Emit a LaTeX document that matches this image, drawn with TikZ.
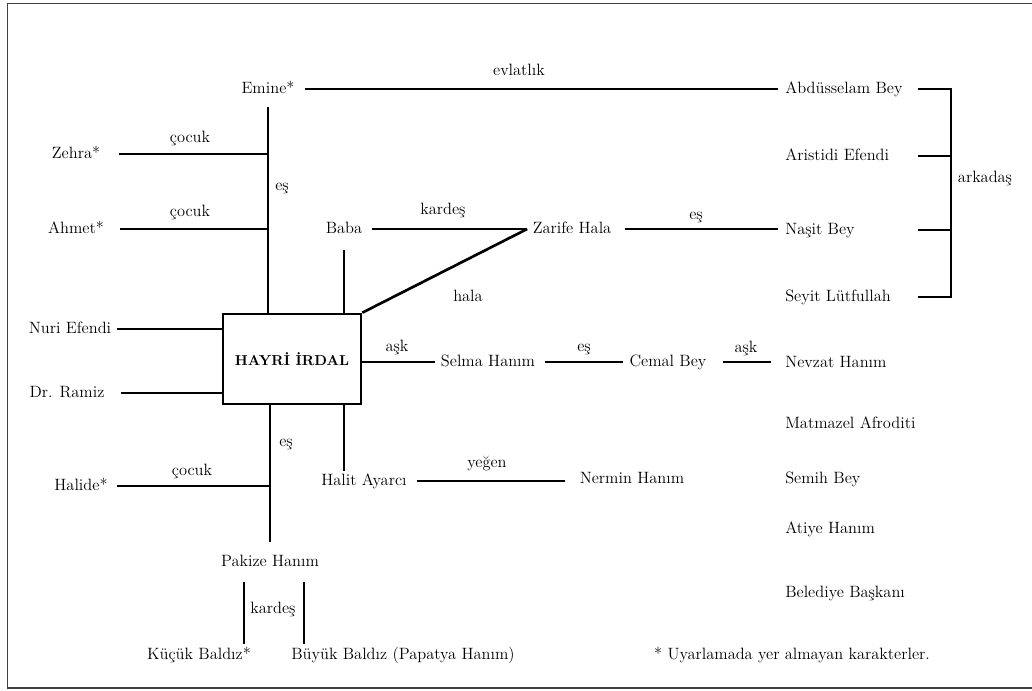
\documentclass[tikz,border=0pt]{standalone}
\begin{document}
\begin{tikzpicture}[x=0.75pt,y=-0.75pt,
  pers/.style={font=\fontsize{12.3}{14}\selectfont, inner sep=0pt, text height=8.5pt, text depth=2.5pt},
  lbl/.style={pers},
  rel/.style={line width=2pt},
  frame/.style={draw=black!75, line width=0.9pt}]
\useasboundingbox (0,0) rectangle (1032,690);
\draw[frame] (1034,3.5) -- (7.5,3.5) -- (7.5,688) -- (1034,688);

% people
\node[pers] (emine) at (268,89) {Emine*};
\node[pers,anchor=west] (abdus) at (785,89) {Abdüsselam Bey};
\node[pers,anchor=west] (arist) at (785,156) {Aristidi Efendi};
\node[pers,anchor=west] (nasit) at (785,230) {Naşit Bey};
\node[pers,anchor=west] (seyit) at (785,297) {Seyit Lütfullah};
\node[pers] (zarife) at (572,229) {Zarife Hala};
\node[pers] (baba) at (344,229) {Baba};
\node[pers] (zehra) at (76,154) {Zehra*};
\node[pers] (ahmet) at (76,229) {Ahmet*};
\node[draw, line width=2pt, minimum width=103.5pt, minimum height=67.5pt, inner sep=0pt,
      font=\bfseries\fontsize{10.8}{13}\selectfont] (hayri) at (292,359) {HAYRİ İRDAL};
\node[pers] (nuri) at (70,329) {Nuri Efendi};
\node[pers] (ramiz) at (67,393) {Dr. Ramiz};
\node[pers] (selma) at (488,362) {Selma Hanım};
\node[pers] (cemal) at (668,362) {Cemal Bey};
\node[pers,anchor=west] (nevzat) at (785,363) {Nevzat Hanım};
\node[pers,anchor=west] (matmazel) at (785,424) {Matmazel Afroditi};
\node[pers,anchor=west] (semih) at (785,479) {Semih Bey};
\node[pers,anchor=west] (atiye) at (785,529) {Atiye Hanım};
\node[pers,anchor=west] (belediye) at (785,593) {Belediye Başkanı};
\node[pers] (halit) at (364,481) {Halit Ayarcı};
\node[pers] (nermin) at (632,479) {Nermin Hanım};
\node[pers] (halide) at (81,486) {Halide*};
\node[pers] (pakize) at (270,562) {Pakize Hanım};
\node[pers] (kucuk) at (199,655) {Küçük Baldız*};
\node[pers] (buyuk) at (403,655) {Büyük Baldız (Papatya Hanım)};
\node[pers] (foot) at (792,655) {* Uyarlamada yer almayan karakterler.};

% labels
\node[lbl] (levl) at (519,71) {evlatlık};
\node[lbl] (lark) at (985,178) {arkadaş};
\node[lbl] (lkar) at (443,210) {kardeş};
\node[lbl] (lhala) at (468,297) {hala};
\node[lbl] (les1) at (696,215) {eş};
\node[lbl] (lcoc1) at (190,138) {çocuk};
\node[lbl] (lcoc2) at (190,212) {çocuk};
\node[lbl,anchor=west] (lesu) at (275,186) {eş};
\node[lbl] (lask1) at (397,347) {aşk};
\node[lbl] (les2) at (584,347) {eş};
\node[lbl] (lask2) at (746,348) {aşk};
\node[lbl] (lyeg) at (487,463) {yeğen};
\node[lbl,anchor=west] (lesd) at (279,442) {eş};
\node[lbl] (lcoc3) at (192,471) {çocuk};
\node[lbl] (lkar2) at (273,609) {kardeş};

% connectors
\draw[rel] ([xshift=8pt]emine.east) -- ([xshift=-5pt]abdus.west);
\coordinate (brl) at (918,0);
\coordinate (brr) at (951,0);
\draw[rel] (abdus.west -| brl) -- (abdus.west -| brr) -- (seyit.west -| brr) -- (seyit.west -| brl);
\draw[rel] (arist.west -| brl) -- (arist.west -| brr);
\draw[rel] (nasit.west -| brl) -- (nasit.west -| brr);

\draw[rel] ([yshift=-8pt]emine.south) -- (emine.south |- hayri.north);
\draw[rel] ([xshift=14pt]zehra.east) -- (zehra.east -| emine.south);
\draw[rel] ([xshift=12pt]ahmet.east) -- (ahmet.east -| emine.south);
\draw[rel] ([yshift=-10pt]baba.south) -- (baba.south |- hayri.north);
\draw[rel] ([xshift=7pt]baba.east) -- ([xshift=-4pt]zarife.west);
\draw[rel] (hayri.north east) -- ([xshift=-4pt]zarife.west);
\draw[rel] ([xshift=10pt]zarife.east) -- ([xshift=-5pt]zarife.east -| nasit.west);
\draw[rel] ([xshift=4.5pt]nuri.east) -- (nuri.east -| hayri.west);
\draw[rel] ([xshift=12pt]ramiz.east) -- (ramiz.east -| hayri.west);
\draw[rel] (selma.west -| hayri.east) -- ([xshift=-4pt]selma.west);
\draw[rel] ([xshift=7pt]selma.east) -- ([xshift=-4.5pt]cemal.west);
\draw[rel] ([xshift=12pt]cemal.east) -- ([xshift=-10.5pt]cemal.east -| nevzat.west);
\draw[rel] (baba.south |- hayri.south) -- ([yshift=2pt]baba.south |- halit.north);
\draw[rel] ([xshift=7.5pt]halit.east) -- ([xshift=-11pt]halit.east -| nermin.west);
\draw[rel] (pakize.north |- hayri.south) -- ([yshift=9pt]pakize.north);
\draw[rel] ([xshift=7pt]halide.east) -- (halide.east -| pakize.north);
\draw[rel] ([xshift=-19.5pt,yshift=-9.5pt]pakize.south) -- ++(0,62);
\draw[rel] ([xshift=25.5pt,yshift=-9.5pt]pakize.south) -- ++(0,62);
\end{tikzpicture}
\end{document}
